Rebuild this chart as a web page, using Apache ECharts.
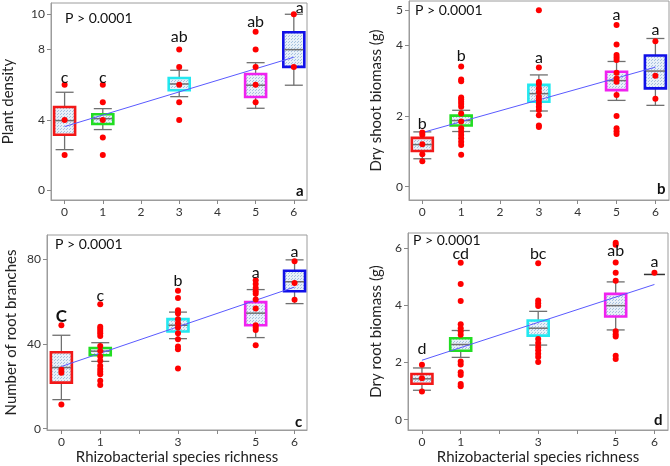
<!DOCTYPE html>
<html>
<head>
<meta charset="utf-8">
<script src="https://cdn.jsdelivr.net/npm/echarts@6/dist/echarts.min.js"></script>
<style>html,body{margin:0;padding:0;background:#fff}#c{width:670px;height:466px}</style>
</head>
<body>
<div id="c"></div>
<script>
// ---- data ----
const xs = [0, 1, 3, 5, 6];

// panel a: Plant density  [low whisker, q1, median, q3, high whisker]
const boxA = [[2.31,3.16,3.96,4.73,5.57],[3.45,3.77,4.07,4.32,4.64],[5.32,5.68,6.04,6.38,6.82],[4.66,5.30,5.97,6.61,7.25],[5.97,7.01,7.99,8.98,10.0]];
const ptsA = [[6,4,2],[6,5,4,3,2],[8,7,6,5,4],[9,8,7,6,5],[10,7]];
const regA = [3.62, 7.56];
const lettersA = ['c','c','ab','ab','a'];
const letterYA = [6.4,6.4,8.7,9.55,10.35];
const yTicksA = [0,4,8,10];

// panel b: Dry shoot biomass (g)
const boxB = [[0.79,1.01,1.19,1.38,1.55],[1.56,1.73,1.87,2.01,2.16],[2.14,2.40,2.63,2.88,3.16],[2.44,2.73,3.00,3.25,3.54],[2.30,2.78,3.27,3.71,4.19]];
const ptsB = [[1.53,1.47,1.2,0.92,0.72],[3.40,3.03,2.98,2.52,2.47,2.40,2.34,2.26,2.07,1.84,1.65,1.55,1.46,1.37,1.27,1.18,0.90],[4.99,3.37,2.96,2.90,2.78,2.68,2.54,2.45,2.35,2.26,2.17,2.02,1.73,1.69],[4.57,4.02,3.72,3.65,3.58,3.22,3.06,2.97,2.59,2.00,1.65,1.57,1.49],[4.11,3.14,2.49]];
const regB = [1.53, 3.38];
const lettersB = ['b','b','a','a','a'];
const letterYB = [1.79,3.70,3.63,4.85,4.43];
const yTicksB = [0,2,4,5];

// panel c: Number of root branches
const boxC = [[13.7,21.7,28.8,36.0,44.0],[31.7,34.6,36.5,38.0,40.5],[42.4,45.8,48.7,51.6,54.9],[42.9,48.7,54.4,59.6,65.5],[58.9,64.7,69.2,74.4,79.5]];
const ptsC = [[48.7,27.8,26.4,11.4],[58.6,48.0,47.1,46.0,44.9,43.7,39.0,36.6,34.0,32.0,29.6,28.1,26.8,25.7,22.6,20.6],[64.9,61.6,55.8,54.3,51.5,49.6,47.6,44.9,42.1,38.7,37.4,28.4],[69.9,68.1,66.3,64.7,63.5,60.8,56.6,48.7,47.6,46.5,39.3],[78.8,68.6,60.7]];
const regC = [29.3, 66.7];
const lettersC = ['C','c','b','a','a'];
const letterYC = [52.7,62.4,69.7,73.6,83.1];
const yTicksC = [0,40,80];

// panel d: Dry root biomass (g)
const boxD = [[1.03,1.26,1.43,1.60,1.81],[2.18,2.41,2.63,2.85,3.12],[2.61,2.94,3.20,3.47,3.79],[3.14,3.61,3.99,4.40,4.82],[5.08,5.08,5.08,5.08,5.08]];
const ptsD = [[1.92,1.45,0.99],[5.49,4.75,4.15,3.34,3.20,3.09,2.97,2.04,1.93,1.66,1.56,1.25,1.17],[5.47,4.17,4.07,3.98,2.82,2.68,2.54,2.43,2.31,2.19,2.02],[6.19,6.12,5.50,5.14,4.86,3.09,2.99,2.91,2.24,2.12],[5.14]];
const regD = [2.08, 4.73];
const lettersD = ['d','cd','bc','ab','a'];
const letterYD = [2.48,5.81,5.81,5.91,5.52];
const yTicksD = [0,2,4,6];

const xTicksAll = [0,1,2,3,4,5,6];
const xLabelsAB = [0,1,2,3,4,5,6];
const xLabelsCD = [0,1,3,5,6];

// ---- styling ----
const FONT = 'Lato';
const boxColors = ['#f21818', '#22dd22', '#22e8f0', '#f022f0', '#1010e8'];

function makePattern() {
  const c = document.createElement('canvas');
  c.width = 3; c.height = 3;
  const g = c.getContext('2d');
  g.fillStyle = '#e8f0f8'; g.fillRect(0, 0, 3, 3);
  g.fillStyle = '#a6c2df'; g.fillRect(0, 0, 1, 1); g.fillRect(1, 2, 1, 1);
  return c;
}
const pattern = { image: makePattern(), repeat: 'repeat' };

function renderBox(params, api) {
  const x = api.value(0);
  const lo = api.coord([x, api.value(1)]);
  const q1 = api.coord([x, api.value(2)]);
  const md = api.coord([x, api.value(3)]);
  const q3 = api.coord([x, api.value(4)]);
  const hi = api.coord([x, api.value(5)]);
  const ci = api.value(6);
  const cx = lo[0], w = 21, cw = 18;
  const grey = '#707070';
  const ch = [];
  const ln = (x1, y1, x2, y2, col, lw) => ({ type: 'line', shape: { x1, y1, x2, y2 }, style: { stroke: col, lineWidth: lw } });
  if (Math.abs(q1[1] - q3[1]) < 0.5) {
    ch.push(ln(cx - w / 2, md[1], cx + w / 2, md[1], '#333', 1.5));
    return { type: 'group', children: ch };
  }
  ch.push(ln(cx, lo[1], cx, q1[1], grey, 1.3));
  ch.push(ln(cx, q3[1], cx, hi[1], grey, 1.3));
  ch.push(ln(cx - cw / 2, lo[1], cx + cw / 2, lo[1], grey, 1.3));
  ch.push(ln(cx - cw / 2, hi[1], cx + cw / 2, hi[1], grey, 1.3));
  ch.push({ type: 'rect', shape: { x: cx - w / 2, y: q3[1], width: w, height: q1[1] - q3[1] },
            style: { fill: pattern, stroke: boxColors[ci], lineWidth: 2.6 } });
  ch.push(ln(cx - w / 2 + 1, md[1], cx + w / 2 - 1, md[1], grey, 1.5));
  return { type: 'group', children: ch };
}

const panels = [
  { box: boxA, pts: ptsA, reg: regA, let: lettersA, ly: letterYA, yt: yTicksA, xl: xLabelsAB,
    grid: { left: 49, top: 3, width: 258, height: 197 }, xr: [-0.356, 6.345], yr: [-0.55, 10.64],
    yname: 'Plant density', ygap: 35, xname: '' },
  { box: boxB, pts: ptsB, reg: regB, let: lettersB, ly: letterYB, yt: yTicksB, xl: xLabelsAB,
    grid: { left: 409, top: 1, width: 260, height: 199 }, xr: [-0.343, 6.35], yr: [-0.376, 5.25],
    yname: 'Dry shoot biomass (g)', ygap: 25, xname: '' },
  { box: boxC, pts: ptsC, reg: regC, let: lettersC, ly: letterYC, yt: yTicksC, xl: xLabelsCD,
    grid: { left: 47, top: 235, width: 260, height: 196 }, xr: [-0.37, 6.32], yr: [-0.6, 91.2],
    yname: 'Number of root branches', ygap: 28, xname: 'Rhizobacterial species richness' },
  { box: boxD, pts: ptsD, reg: regD, let: lettersD, ly: letterYD, yt: yTicksD, xl: xLabelsCD,
    grid: { left: 408, top: 233, width: 260, height: 198 }, xr: [-0.36, 6.35], yr: [-0.36, 6.53],
    yname: 'Dry root biomass (g)', ygap: 24, xname: 'Rhizobacterial species richness' }
];

const grids = [], xAxes = [], yAxes = [], series = [];
const axisCol = '#9c9c9c';
panels.forEach((p, i) => {
  grids.push(Object.assign({ show: true, borderColor: axisCol, borderWidth: 1, backgroundColor: '#fff' }, p.grid));
  xAxes.push({
    type: 'value', gridIndex: i, min: p.xr[0], max: p.xr[1],
    splitLine: { show: false },
    axisLine: { show: true, onZero: false, lineStyle: { color: axisCol } },
    axisTick: { show: true, length: 4, lineStyle: { color: '#888' }, customValues: xTicksAll },
    axisLabel: { customValues: p.xl, color: '#333', fontFamily: FONT, fontSize: 12, margin: 6 },
    name: p.xname, nameLocation: 'middle', nameGap: 20,
    nameTextStyle: { fontFamily: FONT, fontSize: 15, color: '#222' }
  });
  yAxes.push({
    type: 'value', gridIndex: i, min: p.yr[0], max: p.yr[1],
    splitLine: { show: false },
    axisLine: { show: true, onZero: false, lineStyle: { color: axisCol } },
    axisTick: { show: true, length: 4, lineStyle: { color: '#888' }, customValues: p.yt },
    axisLabel: { customValues: p.yt, color: '#333', fontFamily: FONT, fontSize: 12, margin: 6 },
    name: p.yname, nameLocation: 'middle', nameGap: p.ygap, nameRotate: 90,
    nameTextStyle: { fontFamily: FONT, fontSize: 15, color: '#222' }
  });
  series.push({
    type: 'custom', xAxisIndex: i, yAxisIndex: i, renderItem: renderBox, z: 2,
    data: p.box.map((b, k) => [xs[k], b[0], b[1], b[2], b[3], b[4], k])
  });
  series.push({
    type: 'line', xAxisIndex: i, yAxisIndex: i, showSymbol: false, z: 3, silent: true,
    lineStyle: { color: '#5a5aff', width: 1 },
    data: [[0, p.reg[0]], [6, p.reg[1]]]
  });
  const pd = [];
  p.pts.forEach((arr, k) => arr.forEach(v => pd.push([xs[k], v])));
  series.push({
    type: 'scatter', xAxisIndex: i, yAxisIndex: i, z: 4, symbolSize: 6,
    itemStyle: { color: '#ff0000', opacity: 1 }, data: pd
  });
  series.push({
    type: 'scatter', xAxisIndex: i, yAxisIndex: i, z: 5, symbolSize: 1,
    itemStyle: { color: 'rgba(0,0,0,0)' },
    label: { show: true, position: 'inside', formatter: q => q.value[2],
             fontFamily: FONT, fontSize: 16, color: '#111', opacity: 1 },
    data: p.let.map((l, k) => ({
      value: [xs[k], p.ly[k], l],
      label: l === 'C' ? { fontWeight: 'bold', fontSize: 17 } : (i === 0 && k === 4 ? { offset: [6, 0] } : {})
    }))
  });
});

const txt = (left, top, text, bold) => ({
  type: 'text', left, top,
  style: { text, fontFamily: FONT, fontSize: bold ? 15 : 14, fontWeight: bold ? 'bold' : 'normal', fill: '#111' }
});

const chart = echarts.init(document.getElementById('c'), null, { renderer: 'canvas' });
chart.setOption({
  animation: false,
  backgroundColor: '#fff',
  grid: grids, xAxis: xAxes, yAxis: yAxes, series,
  graphic: [
    txt(65, 11, 'P > 0.0001'),
    txt(415, 3, 'P > 0.0001'),
    txt(55, 237, 'P > 0.0001'),
    txt(413, 233, 'P > 0.0001'),
    txt(296, 184, 'a', true),
    txt(657, 182, 'b', true),
    txt(295, 415, 'c', true),
    txt(654, 413, 'd', true)
  ]
});
</script>
</body>
</html>
